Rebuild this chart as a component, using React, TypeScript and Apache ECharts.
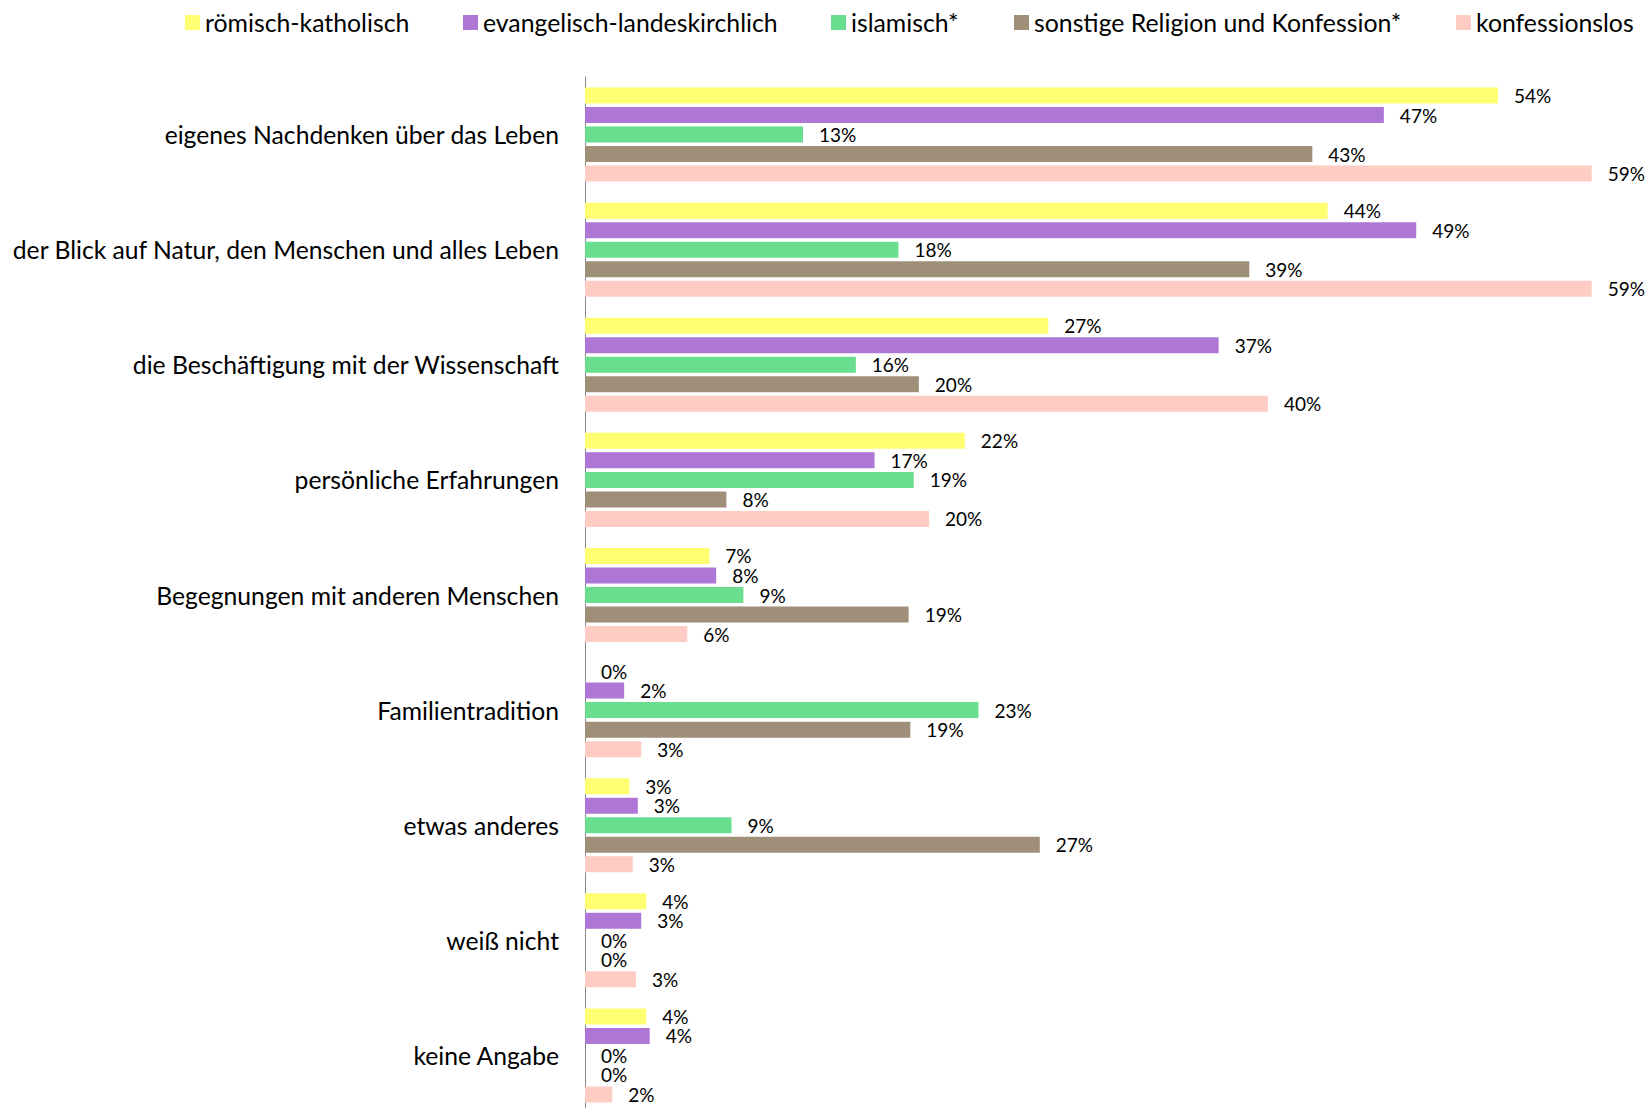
import React, { useEffect, useRef } from "react";
import * as echarts from "echarts";

const categories = [
  "eigenes Nachdenken über das Leben",
  "der Blick auf Natur, den Menschen und alles Leben",
  "die Beschäftigung mit der Wissenschaft",
  "persönliche Erfahrungen",
  "Begegnungen mit anderen Menschen",
  "Familientradition",
  "etwas anderes",
  "weiß nicht",
  "keine Angabe",
];

const seriesNames = [
  "römisch-katholisch",
  "evangelisch-landeskirchlich",
  "islamisch*",
  "sonstige Religion und Konfession*",
  "konfessionslos",
];

const colors = ["#FFFF71", "#AE77D6", "#68DE8E", "#9F8F78", "#FFCCC4"];

const katholisch = [53.6, 43.6, 27.2, 22.3, 7.3, 0, 2.6, 3.6, 3.6];
const evangelisch = [46.9, 48.8, 37.2, 17.0, 7.7, 2.3, 3.1, 3.3, 3.8];
const islamisch = [12.8, 18.4, 15.9, 19.3, 9.3, 23.1, 8.6, 0, 0];
const sonstige = [42.7, 39.0, 19.6, 8.3, 19.0, 19.1, 26.7, 0, 0];
const konfessionslos = [59.1, 59.1, 40.1, 20.2, 6.0, 3.3, 2.8, 3.0, 1.6];

const seriesData = [katholisch, evangelisch, islamisch, sonstige, konfessionslos];

const legendX = [180, 458, 826, 1009, 1451];

const FONT = "Lato, 'Noto Sans', sans-serif";

export default function App() {
  const ref = useRef<HTMLDivElement>(null);
  useEffect(() => {
    if (!ref.current) return;
    const chart = echarts.init(ref.current, undefined, { renderer: "svg" });
    chart.setOption({
      animation: false,
      backgroundColor: "#ffffff",
      textStyle: { fontFamily: FONT },
      legend: seriesNames.map((n, i) => ({
        data: [n],
        left: legendX[i],
        top: 5,
        itemWidth: 15,
        itemHeight: 15,
        icon: "rect",
        textStyle: { fontSize: 24.8, color: "#000", fontFamily: FONT },
      })),
      grid: { left: 585, top: 77, right: 42, height: 1036, containLabel: false },
      xAxis: { type: "value", min: 0, max: 60, show: false },
      yAxis: {
        type: "category",
        inverse: true,
        data: categories,
        axisLine: { show: true, lineStyle: { color: "#888", width: 1 } },
        axisTick: { show: false },
        axisLabel: { fontSize: 24.7, color: "#000", margin: 26, fontFamily: FONT },
      },
      series: seriesNames.map((n, i) => ({
        name: n,
        type: "bar",
        data: seriesData[i],
        barWidth: 16,
        barGap: "22%",
        itemStyle: { color: colors[i] },
        label: {
          show: true,
          position: "right",
          distance: 16,
          fontSize: 19,
          color: "#000",
          fontFamily: FONT,
          formatter: (p: any) => Math.round(p.value) + "%",
        },
      })),
    });
    return () => chart.dispose();
  }, []);
  return (
    <div style={{ position: "fixed", left: 0, top: 0, width: 1649, height: 1108, overflow: "hidden" }}>
      <div ref={ref} style={{ width: 1649, height: 1130 }} />
    </div>
  );
}
